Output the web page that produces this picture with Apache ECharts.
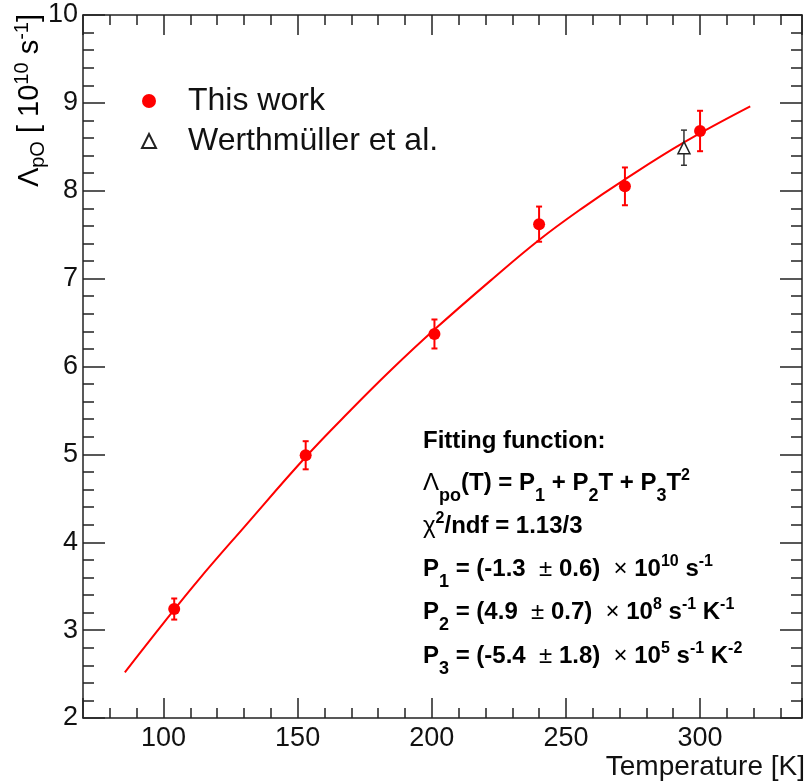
<!DOCTYPE html>
<html>
<head>
<meta charset="utf-8">
<script src="https://cdn.jsdelivr.net/npm/echarts@6/dist/echarts.min.js"></script>
<style>
  html, body { margin: 0; padding: 0; background: #fff; }
  #chart { width: 808px; height: 784px; }
</style>
</head>
<body>
<div id="chart"></div>
<script>
// measured points (this work)
const tempThis = [104, 153, 201, 240, 272, 300];
const lamThis = [3.24, 4.99, 6.37, 7.62, 8.05, 8.68];
const errThis = [0.12, 0.16, 0.165, 0.2, 0.215, 0.23];

// Werthmuller et al.
const tempW = [294];
const lamW = [8.49];
const errW = [0.2];

// fit curve
const fitT = [85.6, 100, 113, 130, 153, 170, 185, 201, 222, 240, 256, 272, 294, 318.7];
const fitV = [2.52, 3.08, 3.57, 4.17, 4.97, 5.51, 5.965, 6.42, 6.98, 7.44, 7.80, 8.13, 8.55, 8.96];

const FONT = 'Liberation Sans';

function zip3(a, b, c) {
    return a.map((v, i) => c ? [v, b[i], c[i]] : [v, b[i]]);
}

function errorBar(color, width) {
    return function (params, api) {
        const x = api.value(0), y = api.value(1), e = api.value(2);
        const hi = api.coord([x, y + e]);
        const lo = api.coord([x, y - e]);
        const w = 3;
        const s = {stroke: color, lineWidth: width};
        return {
            type: 'group',
            children: [
                {type: 'line', shape: {x1: hi[0], y1: hi[1], x2: lo[0], y2: lo[1]}, style: s},
                {type: 'line', shape: {x1: hi[0] - w, y1: hi[1], x2: hi[0] + w, y2: hi[1]}, style: s},
                {type: 'line', shape: {x1: lo[0] - w, y1: lo[1], x2: lo[0] + w, y2: lo[1]}, style: s}
            ]
        };
    };
}

const tickStyle = {color: '#222', width: 1.5};

function xAxisOpt(pos, labels) {
    return {
        type: 'value', position: pos, min: 70, max: 338, splitNumber: 5,
        axisLine: {show: true, onZero: false, lineStyle: {color: '#222', width: 1.5}},
        axisTick: {show: true, inside: true, length: 20, lineStyle: tickStyle},
        minorTick: {show: true, splitNumber: 5, length: 10, lineStyle: tickStyle},
        splitLine: {show: false},
        axisLabel: {
            show: labels, showMinLabel: false, showMaxLabel: false, margin: 7,
            fontFamily: FONT, fontSize: 27, color: '#111'
        }
    };
}

function yAxisOpt(pos, labels) {
    return {
        type: 'value', position: pos, min: 2, max: 10, interval: 1,
        axisLine: {show: true, onZero: false, lineStyle: {color: '#222', width: 1.5}},
        axisTick: {show: true, inside: true, length: 22, lineStyle: tickStyle},
        minorTick: {show: true, splitNumber: 5, length: 11, lineStyle: tickStyle},
        splitLine: {show: false},
        axisLabel: {show: labels, margin: 5, fontFamily: FONT, fontSize: 27, color: '#111'}
    };
}

const rich = {
    b: {fontFamily: FONT, fontSize: 24, fontWeight: 'bold', color: '#000', lineHeight: 44},
    n: {fontFamily: FONT, fontSize: 24, color: '#000', lineHeight: 44},
    sub: {fontFamily: FONT, fontSize: 18, fontWeight: 'bold', color: '#000', lineHeight: 8, verticalAlign: 'bottom'},
    sup: {fontFamily: FONT, fontSize: 16, fontWeight: 'bold', color: '#000', verticalAlign: 'top', padding: [7, 0, 0, 0]}
};

const boxLines = [
    '{b|Fitting function:}',
    '{n|Λ}{sub|po}{b|(T) = P}{sub|1}{b| + P}{sub|2}{b|T + P}{sub|3}{b|T}{sup|2}',
    '{n|χ}{sup|2}{b|/ndf = 1.13/3}',
    '{b|P}{sub|1}{b| = (-1.3  }{n|±}{b| 0.6)  }{n|×}{b| 10}{sup|10}{b| s}{sup|-1}',
    '{b|P}{sub|2}{b| = (4.9  }{n|±}{b| 0.7)  }{n|×}{b| 10}{sup|8}{b| s}{sup|-1}{b| K}{sup|-1}',
    '{b|P}{sub|3}{b| = (-5.4  }{n|±}{b| 1.8)  }{n|×}{b| 10}{sup|5}{b| s}{sup|-1}{b| K}{sup|-2}'
];
const boxY = [441, 483, 526, 569, 612, 656];

const graphics = boxLines.map((t, i) => ({
    type: 'text', x: 423, y: boxY[i],
    style: {text: t, rich: rich, align: 'left', verticalAlign: 'middle'}
}));

graphics.push({
    type: 'text', x: 30, y: 14, rotation: Math.PI / 2,
    style: {
        text: '{m|Λ}{s|pO}{m| [ 10}{p|10}{m| s}{p|-1}{m|]}',
        align: 'right', verticalAlign: 'middle',
        rich: {
            m: {fontFamily: FONT, fontSize: 29, color: '#111', lineHeight: 36},
            s: {fontFamily: FONT, fontSize: 20, color: '#111', lineHeight: 18, verticalAlign: 'bottom'},
            p: {fontFamily: FONT, fontSize: 20, color: '#111', lineHeight: 18, verticalAlign: 'top'}
        }
    }
});

graphics.push({
    type: 'text', x: 805, y: 767,
    style: {text: 'Temperature [K]', fontFamily: FONT, fontSize: 28, fill: '#111', align: 'right', verticalAlign: 'middle'}
});

const chart = echarts.init(document.getElementById('chart'));
chart.setOption({
    animation: false,
    backgroundColor: '#fff',
    grid: {left: 83, right: 6, top: 15, bottom: 66},
    xAxis: [xAxisOpt('bottom', true), xAxisOpt('top', false)],
    yAxis: [yAxisOpt('left', true), yAxisOpt('right', false)],
    legend: {
        orient: 'vertical', left: 141, top: 85, itemGap: 8,
        itemWidth: 14, itemHeight: 14, padding: 0,
        data: ['This work', 'Werthmüller et al.'],
        textStyle: {fontFamily: FONT, fontSize: 32, color: '#111', lineHeight: 32, padding: [0, 0, 0, 27]}
    },
    graphic: graphics,
    series: [
        {
            name: 'fit', type: 'line', data: zip3(fitT, fitV), smooth: 0.4,
            showSymbol: false, lineStyle: {color: '#ff0000', width: 2}, z: 1
        },
        {
            name: 'errThis', type: 'custom', data: zip3(tempThis, lamThis, errThis),
            renderItem: errorBar('#ff0000', 2), z: 2
        },
        {
            name: 'errW', type: 'custom', data: zip3(tempW, lamW, errW),
            renderItem: errorBar('#333', 1.5), z: 2
        },
        {
            name: 'This work', type: 'scatter', data: zip3(tempThis, lamThis),
            symbol: 'circle', symbolSize: 12, itemStyle: {color: '#ff0000', opacity: 1}, z: 3
        },
        {
            name: 'Werthmüller et al.', type: 'scatter', data: zip3(tempW, lamW),
            symbol: 'triangle', symbolSize: 12,
            itemStyle: {color: '#fff', borderColor: '#222', borderWidth: 1.5, opacity: 1}, z: 3
        }
    ]
});
</script>
</body>
</html>
